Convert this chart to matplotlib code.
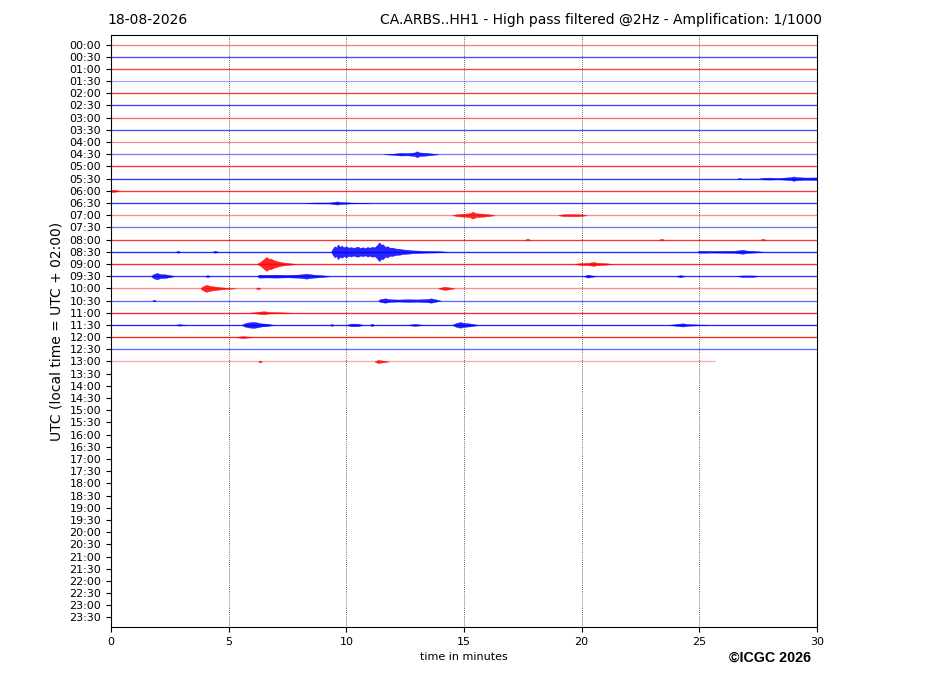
import matplotlib
matplotlib.use("Agg")
import matplotlib.pyplot as plt
import numpy as np

# ---------------- data ----------------
date_label = "18-08-2026"
station_title = "CA.ARBS..HH1 - High pass filtered @2Hz - Amplification: 1/1000"
ylabel = "UTC (local time = UTC + 02:00)"
xlabel = "time in minutes"
credit = "\u00a9ICGC 2026"

row_labels = ["%02d:%02d" % (h, m) for h in range(24) for m in (0, 30)]
x_ticks = [0, 5, 10, 15, 20, 25, 30]

# background noise level per recorded row (shown as line opacity)
row_noise = [0.5, 0.7, 0.75, 0.35, 0.8, 0.75, 0.6, 0.7, 0.45, 0.5,
             0.8, 0.8, 0.8, 0.8, 0.45, 0.55, 0.8, 0.85, 0.85, 0.8,
             0.45, 0.6, 0.85, 0.85, 0.85, 0.6, 0.35]
# minute where each recorded row ends
row_end = [30] * 26 + [25.67]

# burst envelopes: (row index, [(minute, amplitude), ...]) ; amplitude in px-scale counts
bursts = [
    (9, [(11.6, 0), (12.0, 0.6), (12.3, 1.3), (12.6, 1.1), (12.9, 1.8), (13.0, 3), (13.1, 1.8), (13.4, 1.3), (13.6, 0.8), (13.9, 0)]),
    (11, [(26.6, 0), (26.7, 0.7), (26.8, 0), (27.5, 0), (27.7, 0.8), (28.0, 1), (28.3, 0.7), (28.6, 1), (28.9, 1.5), (29.0, 2.2), (29.15, 1.5), (29.5, 1.1), (30, 1.2)]),
    (12, [(0.0, 0.8), (0.1, 1.1), (0.25, 0.6), (0.35, 0)]),
    (13, [(8.3, 0), (8.6, 0.4), (9.3, 0.5), (9.5, 1.2), (9.6, 1.6), (9.75, 1.0), (10.2, 0.4), (11.0, 0)]),
    (14, [(14.5, 0), (14.7, 1), (15.0, 1.5), (15.25, 2), (15.37, 3.5), (15.5, 2), (15.8, 1.5), (16.1, 0.8), (16.3, 0)]),
    (14, [(19.0, 0), (19.2, 0.9), (19.6, 1.1), (20.0, 0.8), (20.2, 0)]),
    (16, [(17.6, 0), (17.7, 0.8), (17.8, 0)]),
    (16, [(23.3, 0), (23.4, 0.8), (23.5, 0)]),
    (16, [(27.6, 0), (27.7, 0.8), (27.8, 0)]),
    (17, [(2.75, 0), (2.85, 1), (2.95, 0)]),
    (17, [(4.3, 0), (4.42, 1), (4.55, 0)]),
    (17, [(9.35, 0), (9.42, 3), (9.5, 5.5), (9.58, 4.5), (9.65, 7.5), (9.72, 5), (9.8, 6), (9.9, 4.5), (10.0, 5.5),
          (10.1, 4), (10.2, 4.8), (10.3, 3.8), (10.4, 4.6), (10.5, 5), (10.6, 3.8), (10.7, 4.5), (10.8, 3.6),
          (10.9, 4.8), (11.0, 4), (11.1, 5), (11.2, 4.4), (11.3, 6.5), (11.4, 9.5), (11.48, 7), (11.55, 7.5),
          (11.65, 5), (11.75, 5.5), (11.85, 4), (11.95, 4.2), (12.1, 3.2), (12.25, 3), (12.4, 2.3), (12.6, 2),
          (12.8, 1.4), (13.0, 1.2), (13.3, 0.9), (13.6, 0.8), (14.0, 0.5), (14.3, 0)]),
    (17, [(24.9, 0), (25.0, 1), (25.5, 0.8), (26.0, 0.9), (26.5, 1), (26.85, 2), (27.0, 1.2), (27.4, 0.7), (27.7, 0)]),
    (18, [(6.2, 0), (6.35, 2), (6.45, 4), (6.52, 5.5), (6.62, 7), (6.7, 5), (6.78, 5.5), (6.9, 4), (7.0, 3.2), (7.1, 2.5), (7.3, 1.5), (7.6, 0.7), (7.9, 0)]),
    (18, [(19.7, 0), (19.9, 0.8), (20.3, 1.2), (20.5, 2), (20.65, 1.2), (21.0, 0.8), (21.3, 0)]),
    (19, [(1.7, 0), (1.8, 2), (1.95, 3.2), (2.1, 2), (2.3, 1.8), (2.5, 1), (2.7, 0)]),
    (19, [(4.0, 0), (4.1, 1), (4.2, 0)]),
    (19, [(6.2, 0), (6.3, 1.5), (6.6, 1.3), (7.0, 1.5), (7.5, 1.2), (8.0, 1.6), (8.3, 2.5), (8.6, 1.5), (9.0, 0.8), (9.3, 0)]),
    (19, [(20.1, 0), (20.25, 1.5), (20.4, 0.8), (20.6, 0)]),
    (19, [(24.0, 0), (24.2, 1), (24.4, 0)]),
    (19, [(26.6, 0), (26.8, 0.7), (27.3, 0.7), (27.5, 0)]),
    (20, [(3.8, 0), (3.9, 2), (4.05, 3.5), (4.2, 2.5), (4.4, 1.8), (4.7, 1), (5.0, 0.5), (5.3, 0)]),
    (20, [(6.15, 0), (6.25, 1), (6.35, 0)]),
    (20, [(13.9, 0), (14.05, 1), (14.2, 1.6), (14.4, 0.8), (14.6, 0)]),
    (21, [(1.75, 0), (1.83, 0.8), (1.9, 0)]),
    (21, [(11.35, 0), (11.45, 1.5), (11.65, 2.2), (11.85, 1.3), (12.2, 1.0), (12.6, 1.3), (13.0, 1.1), (13.4, 1.5), (13.6, 2.2), (13.8, 1.2), (14.0, 0)]),
    (22, [(5.9, 0), (6.2, 0.8), (6.5, 1.5), (6.7, 0.8), (7.7, 0)]),
    (23, [(2.7, 0), (2.9, 0.7), (3.2, 0)]),
    (23, [(5.55, 0), (5.7, 1.8), (5.85, 2.5), (6.05, 3), (6.2, 2.5), (6.4, 1.5), (6.6, 1.2), (6.8, 0.5), (6.9, 0)]),
    (23, [(9.3, 0), (9.38, 1), (9.46, 0)]),
    (23, [(10.0, 0), (10.2, 1.3), (10.5, 1.2), (10.7, 0)]),
    (23, [(11.0, 0), (11.08, 1.2), (11.2, 0)]),
    (23, [(12.6, 0), (12.9, 1), (13.27, 0)]),
    (23, [(14.5, 0), (14.65, 1.8), (14.83, 2.8), (15.0, 2), (15.3, 1.3), (15.6, 0)]),
    (23, [(23.7, 0), (24.0, 0.8), (24.3, 1.6), (24.5, 0.8), (25.4, 0)]),
    (24, [(5.3, 0), (5.6, 1), (6.0, 0)]),
    (26, [(6.25, 0), (6.33, 1), (6.42, 0)]),
    (26, [(11.2, 0), (11.35, 1.6), (11.5, 1), (11.8, 0)]),
]

# ---------------- plot ----------------
row_px = 12.18  # amplitude scale: counts per row spacing
colors = ["#ff0000", "#0000ff"]

fig = plt.figure(figsize=(9.27, 6.96), dpi=100)
ax = fig.add_axes([111 / 927, 69 / 696, 706 / 927, 592 / 696])

for r, (a, end) in enumerate(zip(row_noise, row_end)):
    ax.plot([0, end], [r, r], color=colors[r % 2], alpha=a, lw=0.95, solid_capstyle="butt")

for r, env in bursts:
    t = np.array([p[0] for p in env])
    amp = np.array([p[1] for p in env]) / row_px
    ax.fill_between(t, r - amp, r + amp, color=colors[r % 2], alpha=0.85, lw=0.3,
                    edgecolor=colors[r % 2])

for xv in x_ticks[1:-1]:
    ax.axvline(xv, color="#333333", lw=0.6, ls=(0, (1, 1.5)), zorder=0)

ax.set_xlim(0, 30)
ax.set_ylim(47.78, -0.78)
ax.set_xticks(x_ticks)
ax.set_yticks(range(len(row_labels)))
ax.set_yticklabels(row_labels)
ax.tick_params(labelsize=8)
ax.set_xlabel(xlabel, fontsize=8)
ax.set_ylabel(ylabel, fontsize=10)

fig.text(107 / 927, 1 - 20 / 696, date_label, fontsize=10, ha="left", va="center")
fig.text(822 / 927, 1 - 20 / 696, station_title, fontsize=10, ha="right", va="center")
fig.text(811 / 927, 1 - 658 / 696, credit, fontsize=10.3, ha="right", va="center",
         fontweight="bold", family=["Liberation Sans", "DejaVu Sans"])

fig.savefig("out.png", dpi=100)
